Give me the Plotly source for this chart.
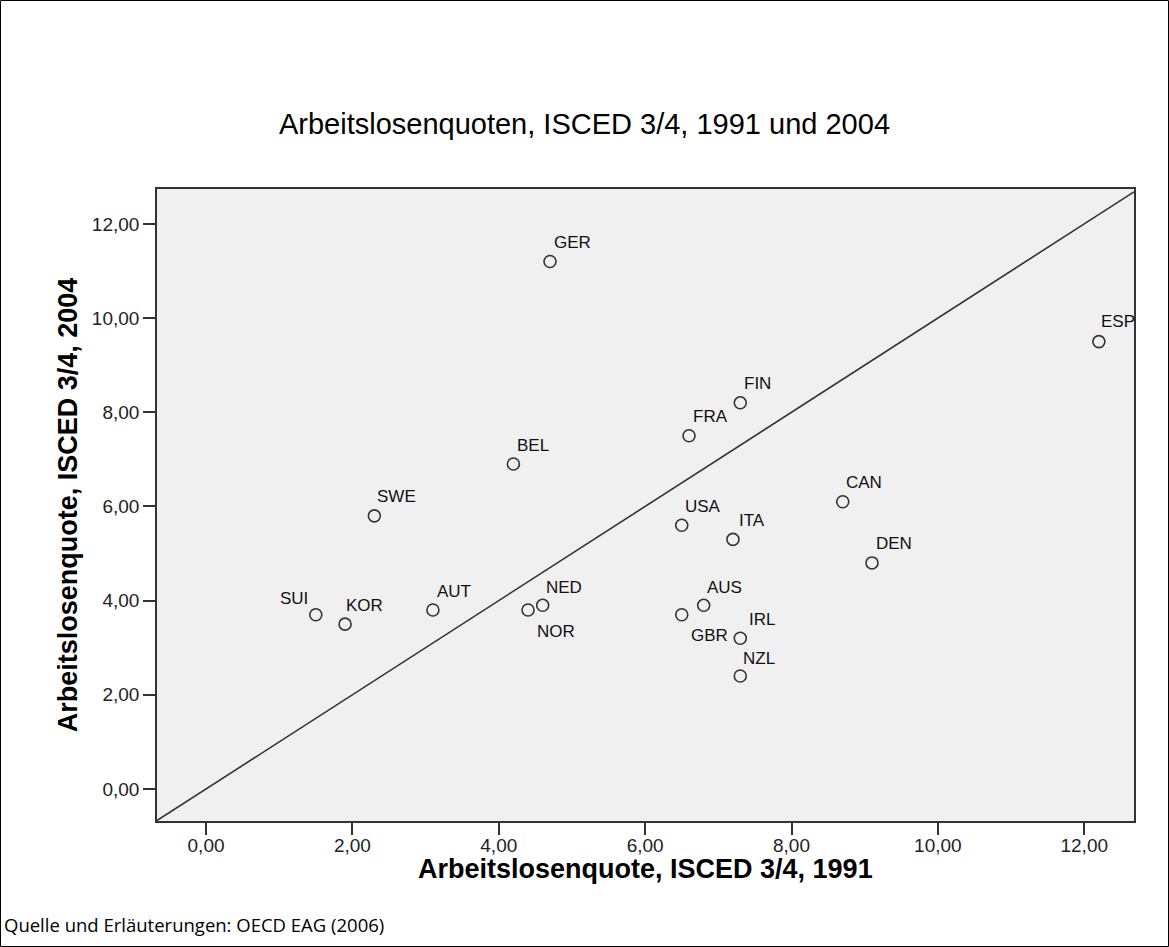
import plotly.graph_objects as go

# Data
countries = ["GER", "ESP", "FIN", "FRA", "BEL", "SWE", "CAN", "USA", "ITA", "DEN",
             "AUS", "SUI", "KOR", "AUT", "NED", "NOR", "GBR", "IRL", "NZL"]
q1991 = [4.7, 12.2, 7.3, 6.6, 4.2, 2.3, 8.7, 6.5, 7.2, 9.1,
         6.8, 1.5, 1.9, 3.1, 4.6, 4.4, 6.5, 7.3, 7.3]
q2004 = [11.2, 9.5, 8.2, 7.5, 6.9, 5.8, 6.1, 5.6, 5.3, 4.8,
         3.9, 3.7, 3.5, 3.8, 3.9, 3.8, 3.7, 3.2, 2.4]
tick_vals = [0, 2, 4, 6, 8, 10, 12]

# label pixel offsets (left edge dx, vertical centre dy; screen px)
label_off = {
    "GER": (4, -19), "ESP": (2, -20), "FIN": (4, -19), "FRA": (4, -19),
    "BEL": (4, -19), "SWE": (3, -19), "CAN": (3, -19), "USA": (3, -19),
    "ITA": (6, -19), "DEN": (4, -19), "AUS": (3, -18), "KOR": (1, -19),
    "AUT": (4, -19), "NED": (3, -18), "NOR": (9, 21), "GBR": (9, 21),
    "IRL": (9, -19), "NZL": (3, -17),
}

W, H = 1169, 947
L, R, T, B = 157, 1169 - 1134, 189, 947 - 821
pw, ph = W - L - R, H - T - B

xr = [-0.67, 12.68]
yr = [-0.68, 12.74]

fig = go.Figure()
fig.add_trace(go.Scatter(
    x=q1991, y=q2004, mode="markers",
    marker=dict(symbol="circle-open", size=12, color="#333333",
                line=dict(width=1.6, color="#333333")),
    hoverinfo="text", text=countries, showlegend=False,
))

ann = []
for c, xv, yv in zip(countries, q1991, q2004):
    if c == "SUI":
        ann.append(dict(x=xv, y=yv, xref="x", yref="y", text=c, showarrow=False,
                        xanchor="right", yanchor="middle", xshift=-6, yshift=16,
                        font=dict(family="Liberation Sans, Arial", size=17, color="#111111")))
        continue
    dx, dy = label_off[c]
    ann.append(dict(x=xv, y=yv, xref="x", yref="y", text=c, showarrow=False,
                    xanchor="left", yanchor="middle", xshift=dx - 2, yshift=-dy,
                    font=dict(family="Liberation Sans, Arial", size=17, color="#111111")))

# x axis title
ann.append(dict(x=0.5, y=(821 - 869) / ph, xref="paper", yref="paper",
                text="<b>Arbeitslosenquote, ISCED 3/4, 1991</b>", showarrow=False,
                xanchor="center", yanchor="middle",
                font=dict(family="Liberation Sans, Arial", size=27, color="#000000")))

# footer
ann.append(dict(x=(2 - L) / pw, y=(821 - 924) / ph, xref="paper", yref="paper",
                text="Quelle und Erläuterungen: OECD EAG (2006)", showarrow=False,
                xanchor="left", yanchor="middle",
                font=dict(family="Open Sans, Liberation Sans", size=18.5, color="#000000")))

lo = max(xr[0], yr[0])
hi = min(xr[1], yr[1])
shapes = [
    dict(type="line", xref="x", yref="y", x0=lo, y0=lo, x1=hi, y1=hi,
         line=dict(color="#333333", width=1.6), layer="above"),
    dict(type="rect", xref="paper", yref="paper",
         x0=(0.5 - L) / pw, x1=(W - 0.5 - L) / pw,
         y0=(821 - (H - 0.5)) / ph, y1=(821 - 0.5) / ph,
         line=dict(color="#000000", width=1), fillcolor="rgba(0,0,0,0)"),
]

fig.update_layout(
    width=W, height=H,
    margin=dict(l=L, r=R, t=T, b=B),
    paper_bgcolor="#ffffff", plot_bgcolor="#f0f0f0",
    title=dict(text="Arbeitslosenquoten, ISCED 3/4, 1991 und 2004",
               x=0.5, xref="container", xanchor="center",
               y=1 - 124 / H, yanchor="middle",
               font=dict(family="Liberation Sans, Arial", size=29, color="#000000")),
    xaxis=dict(range=xr, tickvals=tick_vals, tickformat=".2f",
               showgrid=False, zeroline=False, showline=True, mirror=True,
               linecolor="#333333", linewidth=1.6,
               ticks="outside", ticklen=12, tickwidth=1.6, tickcolor="#333333",
               ticklabelstandoff=-6,
               tickfont=dict(family="Liberation Sans, Arial", size=19, color="#222222")),
    yaxis=dict(range=yr, tickvals=tick_vals, tickformat=".2f",
               showgrid=False, zeroline=False, showline=True, mirror=True,
               linecolor="#333333", linewidth=1.6,
               ticks="outside", ticklen=12, tickwidth=1.6, tickcolor="#333333",
               tickfont=dict(family="Liberation Sans, Arial", size=19, color="#222222"),
               title=dict(text="<b>Arbeitslosenquote, ISCED 3/4, 2004</b>", standoff=6,
                          font=dict(family="Liberation Sans, Arial", size=27, color="#000000"))),
    separators=",.",
    annotations=ann,
    shapes=shapes,
)

fig.write_html("out.html", config={"displayModeBar": False},
               post_script="document.body.style.margin='0';")
